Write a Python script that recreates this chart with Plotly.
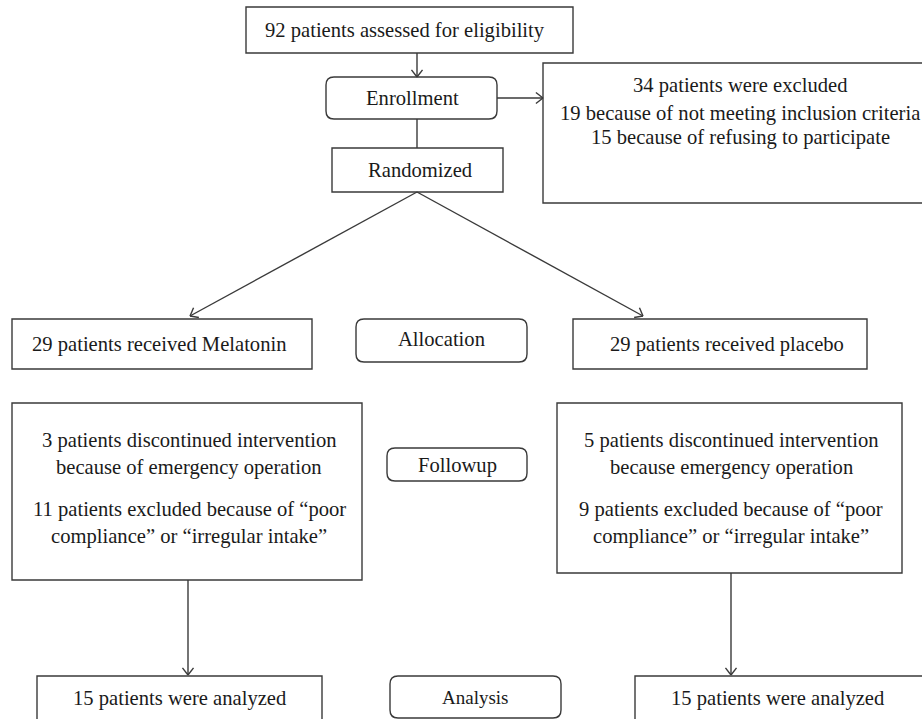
import math
import plotly.graph_objects as go

# ---- data (counts) ----
assessed = 92
excluded = 34
excluded_reasons = ["not meeting inclusion criteria", "refusing to participate"]
excluded_counts = [19, 15]
groups = ["Melatonin", "placebo"]
received = [29, 29]
discontinued = [3, 5]
discontinued_reason = ["because of emergency operation", "because emergency operation"]
poor_compliance = [11, 9]
analyzed = [15, 15]
stage_labels = ["Enrollment", "Randomized", "Allocation", "Followup", "Analysis"]

# ---- layout geometry (pixels) ----
W, H = 922, 719
FONT = dict(family="Liberation Serif", size=20.6, color="#1a1a1a")
LINE = dict(color="#3a3a3a", width=1.4)

shapes = []
annotations = []


def rect(x0, y0, x1, y1):
    shapes.append(dict(type="rect", xref="x", yref="y", x0=x0, y0=y0, x1=x1, y1=y1,
                       line=LINE, fillcolor="rgba(0,0,0,0)", layer="above"))


def rrect(x0, y0, x1, y1, r=8):
    p = (f"M{x0+r},{y0} L{x1-r},{y0} Q{x1},{y0} {x1},{y0+r} L{x1},{y1-r} "
         f"Q{x1},{y1} {x1-r},{y1} L{x0+r},{y1} Q{x0},{y1} {x0},{y1-r} "
         f"L{x0},{y0+r} Q{x0},{y0} {x0+r},{y0} Z")
    shapes.append(dict(type="path", xref="x", yref="y", path=p, line=LINE, layer="above"))


def seg(x0, y0, x1, y1):
    shapes.append(dict(type="line", xref="x", yref="y", x0=x0, y0=y0, x1=x1, y1=y1,
                       line=LINE, layer="above"))


def arrow(x0, y0, x1, y1, size=9, ang=38):
    seg(x0, y0, x1, y1)
    th = math.atan2(y0 - y1, x0 - x1)
    a = math.radians(ang)
    for s in (-1, 1):
        seg(x1, y1, x1 + size * math.cos(th + s * a), y1 + size * math.sin(th + s * a))


def text(x, y, t, size=None):
    f = dict(FONT)
    if size:
        f["size"] = size
    annotations.append(dict(x=x, y=y, xref="x", yref="y", text=t, showarrow=False,
                            font=f, xanchor="center", yanchor="middle"))


# top box
rect(246, 7, 573, 53)
text(405, 30, f"{assessed} patients assessed for eligibility")
arrow(417, 53, 417, 77)

# enrollment
rrect(326, 77, 497, 119)
text(412, 98, stage_labels[0])
arrow(497, 98, 543, 98)

# excluded box
rect(543, 63, 940, 203)
text(740, 85, f"{excluded} patients were excluded")
for i, (c, r) in enumerate(zip(excluded_counts, excluded_reasons)):
    text(740, 113 + 24 * i, f"{c} because of {r}")

# randomized
seg(417, 119, 417, 148)
rect(332, 148, 503, 192)
text(420, 170, stage_labels[1])
arrow(417, 192, 190, 316)
arrow(417, 192, 643, 316)

# allocation row
rect(12, 319, 312, 369)
text(159, 344, f"{received[0]} patients received {groups[0]}")
rrect(356, 319, 527, 362)
text(441, 339, stage_labels[2])
rect(573, 319, 867, 369)
text(727, 344, f"{received[1]} patients received {groups[1]}")

# followup row
rect(12, 403, 362, 580)
rect(557, 403, 902, 573)
rrect(387, 448, 527, 481)
text(457, 465, stage_labels[3])
for cx, i in ((189, 0), (731, 1)):
    text(cx, 440, f"{discontinued[i]} patients discontinued intervention")
    text(cx, 467, discontinued_reason[i])
    text(cx, 509, f"{poor_compliance[i]} patients excluded because of \u201cpoor")
    text(cx, 536, "compliance\u201d or \u201cirregular intake\u201d")

arrow(188, 580, 188, 675)
arrow(731, 573, 731, 675)

# analysis row
rect(37, 676, 322, 740)
rrect(390, 676, 561, 718)
rect(635, 676, 935, 740)
text(180, 698, f"{analyzed[0]} patients were analyzed")
text(475, 697, stage_labels[4], size=19)
text(778, 698, f"{analyzed[1]} patients were analyzed")

fig = go.Figure()
fig.update_layout(
    width=W, height=H,
    margin=dict(l=0, r=0, t=0, b=0),
    font=dict(family="Liberation Serif"),
    paper_bgcolor="white", plot_bgcolor="white",
    xaxis=dict(range=[0, W], visible=False, fixedrange=True),
    yaxis=dict(range=[H, 0], visible=False, fixedrange=True),
    shapes=shapes, annotations=annotations, showlegend=False,
)
fig.write_html("out.html", post_script="document.body.style.margin='0';", config={"displayModeBar": False})
